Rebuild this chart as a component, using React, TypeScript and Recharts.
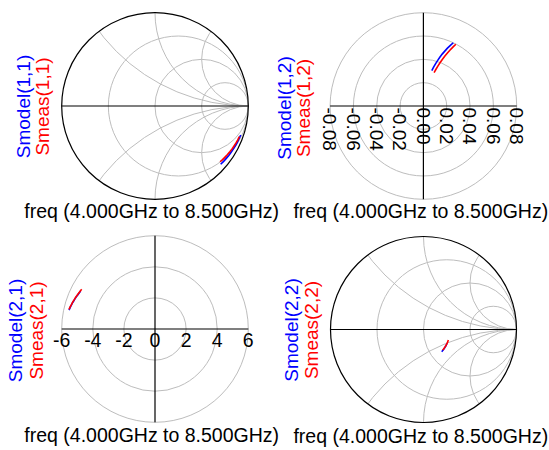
import React from 'react';
import {
  ScatterChart,
  Scatter,
  XAxis,
  YAxis,
  ReferenceLine,
  ReferenceDot,
  Customized,
} from 'recharts';

// ---- page / style ----
const W = 549;
const H = 450;
const FONT = '"Liberation Sans", Arial, Helvetica, sans-serif';
const FONT_SIZE = 19;
const TITLE_SIZE = 19.5;
const BLUE = '#0000ff';
const RED = '#ff0000';
const GRID = '#bdbdbd';

// ---- sweep ----
const freqGHz = [4.0, 4.5, 5.0, 5.5, 6.0, 6.5, 7.0, 7.5, 8.0, 8.5];
const freqLabel = 'freq (4.000GHz to 8.500GHz)';

// ---- S11 (magnitude, angle in degrees) ----
const s11ModelMag = [0.970, 0.967, 0.964, 0.961, 0.958, 0.955, 0.952, 0.948, 0.945, 0.941];
const s11ModelAng = [-18.7, -21.3, -23.8, -26.3, -28.8, -31.3, -33.8, -36.3, -38.9, -41.6];
const s11MeasMag = [0.962, 0.958, 0.954, 0.949, 0.945, 0.940, 0.935, 0.929, 0.924, 0.918];
const s11MeasAng = [-20.0, -22.4, -24.7, -27.0, -29.3, -31.5, -33.8, -36.1, -38.4, -40.6];

// ---- S12 ----
const s12ModelMag = [0.0311, 0.0344, 0.0376, 0.0408, 0.0441, 0.0473, 0.0505, 0.0537, 0.0569, 0.0600];
const s12ModelAng = [76.6, 75.3, 74.0, 72.7, 71.4, 70.1, 68.7, 67.4, 66.0, 64.7];
const s12MeasMag = [0.0300, 0.0333, 0.0366, 0.0400, 0.0433, 0.0466, 0.0499, 0.0532, 0.0565, 0.0598];
const s12MeasAng = [72.2, 71.1, 70.0, 68.9, 67.8, 66.7, 65.6, 64.5, 63.4, 62.3];

// ---- S21 ----
const s21ModelMag = [5.66, 5.63, 5.60, 5.57, 5.53, 5.50, 5.47, 5.43, 5.40, 5.37];
const s21ModelAng = [167.6, 165.9, 164.2, 162.6, 161.0, 159.4, 157.8, 156.2, 154.6, 153.0];
const s21MeasMag = [5.67, 5.64, 5.60, 5.57, 5.53, 5.50, 5.46, 5.43, 5.39, 5.36];
const s21MeasAng = [167.1, 165.4, 163.7, 161.9, 160.2, 158.5, 156.8, 155.1, 153.3, 151.6];

// ---- S22 ----
const s22ModelMag = [0.293, 0.295, 0.297, 0.298, 0.300, 0.302, 0.304, 0.305, 0.307, 0.309];
const s22ModelAng = [-30.4, -32.6, -34.9, -37.1, -39.4, -41.6, -43.9, -46.1, -48.4, -50.6];
const s22MeasMag = [0.290, 0.291, 0.293, 0.294, 0.295, 0.297, 0.298, 0.299, 0.301, 0.302];
const s22MeasAng = [-22.9, -25.6, -28.3, -30.9, -33.6, -36.2, -38.9, -41.6, -44.2, -46.9];

// ---- grids and ticks ----
const smithResistance = [1 / 3, 1, 3];
const smithReactance = [0.5, 1, 2];
const s12Rings = [0.02, 0.04, 0.06, 0.08];
const s12Ticks = [-0.08, -0.06, -0.04, -0.02, 0, 0.02, 0.04, 0.06, 0.08];
const s21Rings = [2, 4, 6];
const s21Ticks = [-6, -4, -2, 0, 2, 4, 6];

type Pt = { x: number; y: number; f: number };

const toPoints = (mag: number[], ang: number[]): Pt[] =>
  mag.map((m, i) => {
    const a = (ang[i] * Math.PI) / 180;
    return { x: m * Math.cos(a), y: m * Math.sin(a), f: freqGHz[i] };
  });

interface PanelSpec {
  id: string;
  kind: 'smith' | 'polar';
  cx: number;
  cy: number;
  R: number;
  max: number;
  rings?: number[];
  ticks?: number[];
  tickText?: (t: number) => string;
  rotatedTicks?: boolean;
  legendModel: string;
  legendMeas: string;
  legendModelX: number;
  legendMeasX: number;
  legendY: number;
  freqX: number;
  freqY: number;
  model: Pt[];
  meas: Pt[];
}

const panels: PanelSpec[] = [
  {
    id: 's11',
    kind: 'smith',
    cx: 155,
    cy: 106,
    R: 93.3,
    max: 1,
    legendModel: 'Smodel(1,1)',
    legendMeas: 'Smeas(1,1)',
    legendModelX: 29.5,
    legendMeasX: 49,
    legendY: 106.5,
    freqX: 151.7,
    freqY: 217.5,
    model: toPoints(s11ModelMag, s11ModelAng),
    meas: toPoints(s11MeasMag, s11MeasAng),
  },
  {
    id: 's12',
    kind: 'polar',
    cx: 423.4,
    cy: 106,
    R: 93.3,
    max: 0.08,
    rings: s12Rings,
    ticks: s12Ticks,
    tickText: (t) => t.toFixed(2),
    rotatedTicks: true,
    legendModel: 'Smodel(1,2)',
    legendMeas: 'Smeas(1,2)',
    legendModelX: 291,
    legendMeasX: 309.5,
    legendY: 108,
    freqX: 420.8,
    freqY: 217.5,
    model: toPoints(s12ModelMag, s12ModelAng),
    meas: toPoints(s12MeasMag, s12MeasAng),
  },
  {
    id: 's21',
    kind: 'polar',
    cx: 155,
    cy: 329,
    R: 93.3,
    max: 6,
    rings: s21Rings,
    ticks: s21Ticks,
    tickText: (t) => String(t),
    rotatedTicks: false,
    legendModel: 'Smodel(2,1)',
    legendMeas: 'Smeas(2,1)',
    legendModelX: 22,
    legendMeasX: 42.5,
    legendY: 330.5,
    freqX: 151.7,
    freqY: 441.5,
    model: toPoints(s21ModelMag, s21ModelAng),
    meas: toPoints(s21MeasMag, s21MeasAng),
  },
  {
    id: 's22',
    kind: 'smith',
    cx: 423.5,
    cy: 329.5,
    R: 93,
    max: 1,
    legendModel: 'Smodel(2,2)',
    legendMeas: 'Smeas(2,2)',
    legendModelX: 297.5,
    legendMeasX: 317.5,
    legendY: 330,
    freqX: 420.8,
    freqY: 442.5,
    model: toPoints(s22ModelMag, s22ModelAng),
    meas: toPoints(s22MeasMag, s22MeasAng),
  },
];

const noMarker = () => <g />;

// Smith chart / polar ring background
function Backdrop({ spec }: { spec: PanelSpec }) {
  const { cx, cy, R, max, id } = spec;
  if (spec.kind === 'smith') {
    return (
      <g>
        <defs>
          <clipPath id={`clip-${id}`}>
            <circle cx={cx} cy={cy} r={R} />
          </clipPath>
        </defs>
        <g clipPath={`url(#clip-${id})`} fill="none" stroke={GRID} strokeWidth={1}>
          {smithResistance.map((r) => (
            <circle key={`r${r}`} cx={cx + (R * r) / (r + 1)} cy={cy} r={R / (r + 1)} />
          ))}
          {smithReactance.map((x) =>
            [1, -1].map((s) => (
              <circle key={`x${x}${s}`} cx={cx + R} cy={cy - (s * R) / x} r={R / x} />
            ))
          )}
        </g>
        <circle cx={cx} cy={cy} r={R} fill="none" stroke="#000" strokeWidth={1.2} />
      </g>
    );
  }
  return (
    <g fill="none" stroke={GRID} strokeWidth={1}>
      {(spec.rings || []).map((v) => (
        <circle key={v} cx={cx} cy={cy} r={(R * v) / max} />
      ))}
    </g>
  );
}

function Labels({ spec }: { spec: PanelSpec }) {
  const legend = { fontFamily: FONT, fontSize: FONT_SIZE };
  const title = { fontFamily: FONT, fontSize: TITLE_SIZE };
  return (
    <g>
      <text
        x={spec.legendModelX}
        y={spec.legendY}
        textAnchor="middle"
        fill={BLUE}
        transform={`rotate(-90, ${spec.legendModelX}, ${spec.legendY})`}
        style={legend}
      >
        {spec.legendModel}
      </text>
      <text
        x={spec.legendMeasX}
        y={spec.legendY}
        textAnchor="middle"
        fill={RED}
        transform={`rotate(-90, ${spec.legendMeasX}, ${spec.legendY})`}
        style={legend}
      >
        {spec.legendMeas}
      </text>
      <text x={spec.freqX} y={spec.freqY} textAnchor="middle" fill="#000" style={title}>
        {freqLabel}
      </text>
    </g>
  );
}

function Panel({ spec }: { spec: PanelSpec }) {
  const { cx, cy, R, max } = spec;
  const margin = { left: cx - R, right: W - cx - R, top: cy - R, bottom: H - cy - R };
  const tickShape = (t: number) => (p: any) => {
    const label = spec.tickText ? spec.tickText(t) : String(t);
    if (spec.rotatedTicks) {
      const y0 = p.cy + 1.5;
      return (
        <text
          x={p.cx}
          y={y0}
          dy="0.36em"
          textAnchor="start"
          fill="#000"
          transform={`rotate(90, ${p.cx}, ${y0})`}
          style={{ fontFamily: FONT, fontSize: FONT_SIZE }}
        >
          {label}
        </text>
      );
    }
    return (
      <text
        x={p.cx}
        y={p.cy + 18}
        textAnchor="middle"
        fill="#000"
        style={{ fontFamily: FONT, fontSize: TITLE_SIZE }}
      >
        {label}
      </text>
    );
  };

  return (
    <div style={{ position: 'absolute', left: 0, top: 0 }}>
      <ScatterChart width={W} height={H} margin={margin}>
        <XAxis type="number" dataKey="x" domain={[-max, max]} allowDataOverflow hide />
        <YAxis type="number" dataKey="y" domain={[-max, max]} allowDataOverflow hide />
        <Customized component={<Backdrop spec={spec} />} />
        <ReferenceLine y={0} stroke="#000" strokeWidth={1.2} ifOverflow="visible" />
        {spec.kind === 'polar' && (
          <ReferenceLine x={0} stroke="#000" strokeWidth={1.2} ifOverflow="visible" />
        )}
        {(spec.ticks || []).map((t) => (
          <ReferenceDot
            key={`t${t}`}
            x={t}
            y={0}
            r={0}
            ifOverflow="visible"
            shape={tickShape(t)}
          />
        ))}
        <Scatter
          name="model"
          data={spec.model}
          fill={BLUE}
          line={{ stroke: BLUE, strokeWidth: 1.6 }}
          shape={noMarker}
          isAnimationActive={false}
        />
        <Scatter
          name="meas"
          data={spec.meas}
          fill={RED}
          line={{ stroke: RED, strokeWidth: 1.6 }}
          shape={noMarker}
          isAnimationActive={false}
        />
        <Customized component={<Labels spec={spec} />} />
      </ScatterChart>
    </div>
  );
}

export default function App() {
  return (
    <div
      style={{
        position: 'absolute',
        left: 0,
        top: 0,
        width: W,
        height: H,
        background: '#fff',
        overflow: 'hidden',
      }}
    >
      {panels.map((p) => (
        <Panel key={p.id} spec={p} />
      ))}
    </div>
  );
}
